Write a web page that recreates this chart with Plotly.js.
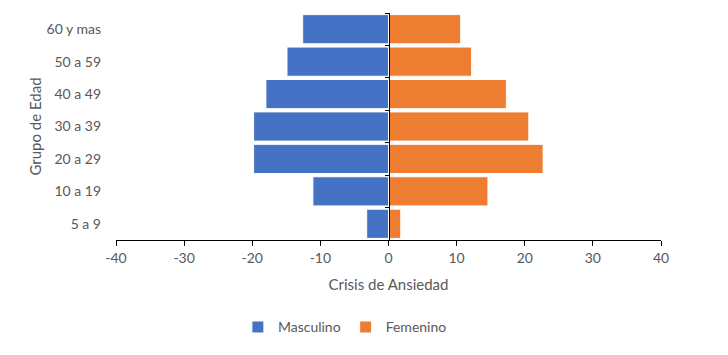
<!DOCTYPE html>
<html>
<head>
<meta charset="utf-8">
<script src="https://cdn.plot.ly/plotly-3.0.1.min.js"></script>
<style>html,body{margin:0;padding:0;background:#fff;}#chart{width:728px;height:355px;}</style>
</head>
<body>
<div id="chart"></div>
<script>
const categories = ["5 a 9", "10 a 19", "20 a 29", "30 a 39", "40 a 49", "50 a 59", "60 y mas"];
const masculino = [-3.2, -11.1, -19.8, -19.8, -18.0, -14.9, -12.6];
const femenino = [1.8, 14.6, 22.7, 20.6, 17.3, 12.2, 10.6];
const xTicks = [-40, -30, -20, -10, 0, 10, 20, 30, 40];

const txt = '#595959';
const fontFam = 'Lato, "Open Sans", sans-serif';

const traces = [
  {type: 'bar', orientation: 'h', name: 'Masculino', y: categories, x: masculino,
   marker: {color: '#4472C4', line: {color: '#ffffff', width: 1}}},
  {type: 'bar', orientation: 'h', name: 'Femenino', y: categories, x: femenino,
   marker: {color: '#ED7D31', line: {color: '#ffffff', width: 1}}},
  {type: 'scatter', mode: 'markers', y: categories, x: categories.map(() => 0), yaxis: 'y2',
   showlegend: false, hoverinfo: 'skip', marker: {opacity: 0}}
];

const layout = {
  width: 728, height: 355,
  margin: {l: 116, r: 67, t: 13, b: 115},
  paper_bgcolor: '#fff', plot_bgcolor: '#fff',
  font: {family: fontFam, color: txt, size: 14},
  barmode: 'relative', bargap: 0.1,
  xaxis: {
    range: [-40, 40], tickvals: xTicks, ticktext: xTicks.map(String),
    showgrid: false, zeroline: false,
    showline: true, linecolor: '#000', linewidth: 1,
    ticks: 'outside', ticklen: 5, tickcolor: '#000',
    tickfont: {size: 14, color: txt},
    title: {text: 'Crisis de Ansiedad', font: {size: 15, color: txt}, standoff: 14}
  },
  yaxis: {
    categoryorder: 'array', categoryarray: categories,
    showgrid: false, zeroline: false, showline: false, ticks: '',
    tickfont: {size: 14, color: txt}, ticklabelstandoff: 14,
    title: {text: 'Grupo de Edad', font: {size: 15, color: txt}, standoff: 1}
  },
  yaxis2: {
    overlaying: 'y', matches: 'y', anchor: 'free', position: 0.5, side: 'left',
    categoryorder: 'array', categoryarray: categories,
    showgrid: false, zeroline: false, showticklabels: false,
    showline: true, linecolor: '#000', linewidth: 1.5,
    ticks: 'outside', ticklen: 4, tickcolor: '#000', tickson: 'boundaries'
  },
  showlegend: true,
  legend: {
    orientation: 'h', x: 0.42, xanchor: 'center', y: -0.385, yanchor: 'middle',
    font: {size: 14, color: txt}, itemwidth: 30, traceorder: 'normal'
  }
};

Plotly.newPlot('chart', traces, layout, {displayModeBar: false, staticPlot: true});
</script>
</body>
</html>
